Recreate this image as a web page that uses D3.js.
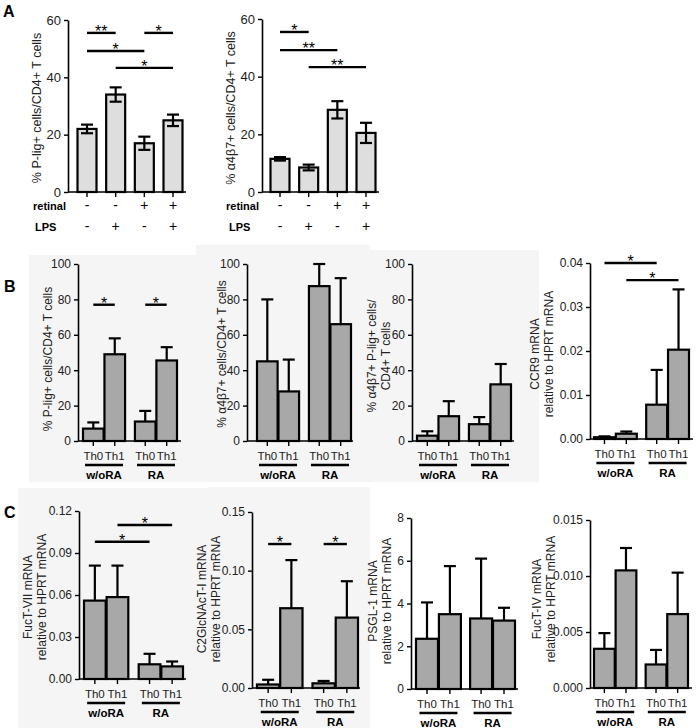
<!DOCTYPE html>
<html>
<head>
<meta charset="utf-8">
<script src="https://cdn.jsdelivr.net/npm/d3@7"></script>
<style>
  body { margin: 0; background: #fff; }
  text { font-family: "Liberation Sans", Arial, sans-serif; }
</style>
</head>
<body>
<div id="container"></div>
<script>
/* DATA */
const condA = ["a", "b", "c", "d"];
const retinalRow = ["-", "-", "+", "+"];
const lpsRow = ["-", "+", "-", "+"];

const pligA = [22, 34, 17, 25];
const pligAErr = [1.5, 2.5, 2.3, 2];
const a4b7A = [11.5, 8.5, 28.5, 20.5];
const a4b7AErr = [0.6, 1, 3, 3.5];

const groupOf = ["w/oRA", "w/oRA", "RA", "RA"];
const thOf = ["Th0", "Th1", "Th0", "Th1"];
const groups = ["w/oRA", "RA"];
const thLevels = ["Th0", "Th1"];

const pligB = [7, 49, 11, 45.5];
const pligBErr = [3.5, 9, 6, 7.5];
const a4b7B = [45, 28, 87.5, 66];
const a4b7BErr = [35, 18, 12.5, 26];
const dblB = [3, 14, 9.5, 32];
const dblBErr = [2.5, 8.5, 4, 11.5];
const ccr9 = [0.0004, 0.0012, 0.0078, 0.0203];
const ccr9Err = [0.0002, 0.0005, 0.0079, 0.0137];

const fuct7 = [0.056, 0.0585, 0.0105, 0.009];
const fuct7Err = [0.025, 0.0225, 0.0075, 0.0035];
const c2gnt = [0.003, 0.068, 0.004, 0.06];
const c2gntErr = [0.004, 0.041, 0.002, 0.031];
const psgl = [2.35, 3.5, 3.3, 3.2];
const psglErr = [1.7, 2.25, 2.8, 0.6];
const fuct4 = [0.0035, 0.0105, 0.0021, 0.0066];
const fuct4Err = [0.0014, 0.002, 0.0013, 0.0037];

const ticksPct60 = [0, 20, 40, 60];
const ticksPct100 = [0, 20, 40, 60, 80, 100];
const ticksCcr9 = [0, 0.01, 0.02, 0.03, 0.04];
const ticksFuct7 = [0, 0.03, 0.06, 0.09, 0.12];
const ticksC2gnt = [0, 0.05, 0.10, 0.15];
const ticksPsgl = [0, 2, 4, 6, 8];
const ticksFuct4 = [0, 0.005, 0.010, 0.015];

// significance brackets: [from bar, to bar, height in data units, label]
const sigA1 = [[0, 1, 55.5, "**"], [2, 3, 55.5, "*"], [0, 2, 49.2, "*"], [1, 3, 43.3, "*"]];
const sigA2 = [[0, 1, 55.5, "*"], [0, 2, 49.2, "**"], [1, 3, 43.3, "**"]];
const sigB1 = [[0, 1, 77, "*"], [2, 3, 77, "*"]];
const sigB4 = [[0, 2, 0.04, "*"], [1, 3, 0.0361, "*"]];
const sigC1 = [[0, 2, 0.098, "*"], [1, 3, 0.11, "*"]];
const sigC2 = [[0, 1, 0.1227, "*"], [2, 3, 0.1227, "*"]];

/* SVG */
const width = 698, height = 728;
const svg = d3.select("#container").append("svg")
  .attr("width", width)
  .attr("height", height);

// faint panel backgrounds
[[29, 255, 167, 227], [196, 245, 174, 237], [370, 250, 169, 232],
 [18, 488, 191, 240], [209, 487, 161, 241]].forEach(r => {
  svg.append("rect")
    .attr("x", r[0]).attr("y", r[1])
    .attr("width", r[2]).attr("height", r[3])
    .attr("fill", "#f5f5f5");
});

// panel letters
[["A", 3, 17], ["B", 4, 292], ["C", 4, 518]].forEach(l => {
  svg.append("text")
    .attr("x", l[1]).attr("y", l[2])
    .attr("font-size", 16)
    .attr("font-weight", "bold")
    .text(l[0]);
});

function drawPanel(o) {
  const g = svg.append("g");
  const y = d3.scaleLinear().domain(o.domain).range([o.yBot, o.yTop]);

  let cx, bw;
  if (o.grouped) {
    const xg = d3.scaleBand().domain(groups).range(o.xr).paddingInner(o.pad);
    const xi = d3.scaleBand().domain(thLevels).range([0, xg.bandwidth()]).paddingInner(0.04);
    bw = xi.bandwidth();
    cx = i => xg(groupOf[i]) + xi(thOf[i]) + bw / 2;
  } else {
    const xp = d3.scalePoint().domain(condA).range(o.xr);
    bw = 19;
    cx = i => xp(condA[i]);
  }

  // bars
  g.selectAll("rect.bar")
    .data(o.vals)
    .join("rect")
    .attr("class", "bar")
    .attr("x", (d, i) => cx(i) - bw / 2)
    .attr("y", d => y(d))
    .attr("width", bw)
    .attr("height", d => y(0) - y(d))
    .attr("fill", o.fill)
    .attr("stroke", "black")
    .attr("stroke-width", 2.2);

  // error bars
  o.vals.forEach((v, i) => {
    const e = o.errs[i];
    const lo = o.twoSided ? v - e : v;
    g.append("line")
      .attr("x1", cx(i)).attr("x2", cx(i))
      .attr("y1", y(lo)).attr("y2", y(v + e))
      .attr("stroke", "black").attr("stroke-width", 2.2);
    const caps = o.twoSided ? [v - e, v + e] : [v + e];
    caps.forEach(c => {
      g.append("line")
        .attr("x1", cx(i) - 6).attr("x2", cx(i) + 6)
        .attr("y1", y(c)).attr("y2", y(c))
        .attr("stroke", "black").attr("stroke-width", 2.2);
    });
  });

  // y axis
  const yAxis = d3.axisLeft(y)
    .tickValues(o.ticks)
    .tickFormat(o.fmt)
    .tickSize(4)
    .tickSizeOuter(0);
  const ya = g.append("g")
    .attr("transform", `translate(${o.x0},0)`)
    .call(yAxis);
  ya.select(".domain").attr("stroke-width", 1.6);
  ya.selectAll(".tick line").attr("stroke-width", 1.4);
  ya.selectAll(".tick text")
    .attr("font-size", o.tickFont)
    .attr("fill", "#222")
    .attr("font-family", "'Liberation Sans', Arial, sans-serif");

  // x axis line and ticks
  g.append("line")
    .attr("x1", o.x0).attr("x2", o.xEnd)
    .attr("y1", y(0)).attr("y2", y(0))
    .attr("stroke", "black").attr("stroke-width", 1.6);
  o.vals.forEach((v, i) => {
    g.append("line")
      .attr("x1", cx(i)).attr("x2", cx(i))
      .attr("y1", y(0)).attr("y2", y(0) + 5)
      .attr("stroke", "black").attr("stroke-width", 1.4);
  });

  // y title
  const tt = g.append("text")
    .attr("transform", `translate(${o.titleX},${o.titleY}) rotate(-90)`)
    .attr("text-anchor", "middle")
    .attr("font-size", o.titleFont)
    .attr("fill", "#222");
  o.title.forEach((t, k) => {
    tt.append("tspan")
      .attr("x", 0)
      .attr("dy", k === 0 ? 0 : 14)
      .text(t);
  });

  // significance
  (o.sig || []).forEach(s => {
    const yy = y(s[2]);
    g.append("line")
      .attr("x1", cx(s[0])).attr("x2", cx(s[1]))
      .attr("y1", yy).attr("y2", yy)
      .attr("stroke", "black").attr("stroke-width", 2.4);
    g.append("text")
      .attr("x", (cx(s[0]) + cx(s[1])) / 2)
      .attr("y", yy + 4)
      .attr("text-anchor", "middle")
      .attr("font-size", 16)
      .text(s[3]);
  });

  // category labels
  if (o.grouped) {
    o.vals.forEach((v, i) => {
      g.append("text")
        .attr("x", cx(i)).attr("y", y(0) + 19)
        .attr("text-anchor", "middle")
        .attr("font-size", 11.5)
        .attr("fill", "#222")
        .text(thOf[i]);
    });
    groups.forEach((gr, k) => {
      const mid = (cx(2 * k) + cx(2 * k + 1)) / 2;
      g.append("line")
        .attr("x1", mid - 19).attr("x2", mid + 19)
        .attr("y1", y(0) + 24).attr("y2", y(0) + 24)
        .attr("stroke", "black").attr("stroke-width", 2.4);
      g.append("text")
        .attr("x", mid).attr("y", y(0) + 38)
        .attr("text-anchor", "middle")
        .attr("font-size", 11.5)
        .attr("font-weight", "bold")
        .text(gr);
    });
  } else {
    [["retinal", retinalRow, 18, o.retX], ["LPS", lpsRow, 39, o.lpsX]].forEach(r => {
      g.append("text")
        .attr("x", r[3]).attr("y", y(0) + r[2])
        .attr("font-size", 11)
        .attr("font-weight", "bold")
        .text(r[0]);
      r[1].forEach((s, i) => {
        g.append("text")
          .attr("x", cx(i)).attr("y", y(0) + r[2])
          .attr("text-anchor", "middle")
          .attr("font-size", 14)
          .text(s);
      });
    });
  }
}

const fmt0 = d3.format("d");

// PANEL A
drawPanel({ vals: pligA, errs: pligAErr, twoSided: true, fill: "#dedede",
  domain: [0, 60], ticks: ticksPct60, fmt: fmt0, tickFont: 13,
  x0: 68, xEnd: 186, yTop: 20, yBot: 192, xr: [87, 173],
  title: ["% P-lig+ cells/CD4+ T cells"], titleX: 41, titleY: 108, titleFont: 12.5,
  sig: sigA1, retX: 33, lpsX: 35 });

drawPanel({ vals: a4b7A, errs: a4b7AErr, twoSided: true, fill: "#dedede",
  domain: [0, 60], ticks: ticksPct60, fmt: fmt0, tickFont: 13,
  x0: 262, xEnd: 379, yTop: 19, yBot: 192, xr: [280, 366],
  title: ["% α4β7+ cells/CD4+ T cells"], titleX: 235, titleY: 108, titleFont: 12.5,
  sig: sigA2, retX: 226, lpsX: 229 });

// PANEL B
drawPanel({ grouped: true, vals: pligB, errs: pligBErr, fill: "#a8a8a8",
  domain: [0, 100], ticks: ticksPct100, fmt: fmt0, tickFont: 12,
  x0: 78, xEnd: 181, yTop: 264, yBot: 441, xr: [83, 177], pad: 0.19,
  title: ["% P-lig+ cells/CD4+ T cells"], titleX: 52, titleY: 359, titleFont: 12,
  sig: sigB1 });

drawPanel({ grouped: true, vals: a4b7B, errs: a4b7BErr, fill: "#a8a8a8",
  domain: [0, 100], ticks: ticksPct100, fmt: fmt0, tickFont: 12,
  x0: 247, xEnd: 353, yTop: 264, yBot: 441, xr: [257, 351], pad: 0.19,
  title: ["% α4β7+ cells/CD4+ T cells"], titleX: 226, titleY: 354, titleFont: 12 });

drawPanel({ grouped: true, vals: dblB, errs: dblBErr, fill: "#a8a8a8",
  domain: [0, 100], ticks: ticksPct100, fmt: fmt0, tickFont: 12,
  x0: 412, xEnd: 514, yTop: 264, yBot: 441, xr: [417, 511], pad: 0.19,
  title: ["% α4β7+ P-lig+ cells/", "CD4+ T cells"], titleX: 376, titleY: 356, titleFont: 12 });

drawPanel({ grouped: true, vals: ccr9, errs: ccr9Err, fill: "#a8a8a8",
  domain: [0, 0.04], ticks: ticksCcr9, fmt: d3.format(".2f"), tickFont: 12,
  x0: 590, xEnd: 693, yTop: 263, yBot: 439, xr: [594, 689], pad: 0.18,
  title: ["CCR9 mRNA", "relative to HPRT mRNA"], titleX: 539, titleY: 354, titleFont: 12,
  sig: sigB4 });

// PANEL C
drawPanel({ grouped: true, vals: fuct7, errs: fuct7Err, fill: "#a8a8a8",
  domain: [0, 0.12], ticks: ticksFuct7, fmt: d3.format(".2f"), tickFont: 12,
  x0: 79, xEnd: 186, yTop: 511, yBot: 679, xr: [84, 183], pad: 0.19,
  title: ["FucT-VII mRNA", "relative to HPRT mRNA"], titleX: 32, titleY: 597, titleFont: 12,
  sig: sigC1 });

drawPanel({ grouped: true, vals: c2gnt, errs: c2gntErr, fill: "#a8a8a8",
  domain: [0, 0.15], ticks: ticksC2gnt, fmt: d3.format(".2f"), tickFont: 12,
  x0: 252, xEnd: 360, yTop: 512, yBot: 688, xr: [257, 358], pad: 0.18,
  title: ["C2GlcNAcT-I mRNA", "relative to HPRT mRNA"], titleX: 206, titleY: 599, titleFont: 12,
  sig: sigC2 });

drawPanel({ grouped: true, vals: psgl, errs: psglErr, fill: "#a8a8a8",
  domain: [0, 8], ticks: ticksPsgl, fmt: fmt0, tickFont: 12,
  x0: 411, xEnd: 518, yTop: 518, yBot: 689, xr: [416, 515], pad: 0.17,
  title: ["PSGL-1 mRNA", "relative to HPRT mRNA"], titleX: 377, titleY: 601, titleFont: 12 });

drawPanel({ grouped: true, vals: fuct4, errs: fuct4Err, fill: "#a8a8a8",
  domain: [0, 0.015], ticks: ticksFuct4, fmt: d3.format(".3f"), tickFont: 12,
  x0: 590, xEnd: 692, yTop: 520, yBot: 688, xr: [594, 688], pad: 0.18,
  title: ["FucT-IV mRNA", "relative to HPRT mRNA"], titleX: 541, titleY: 599, titleFont: 12 });
</script>
</body>
</html>
